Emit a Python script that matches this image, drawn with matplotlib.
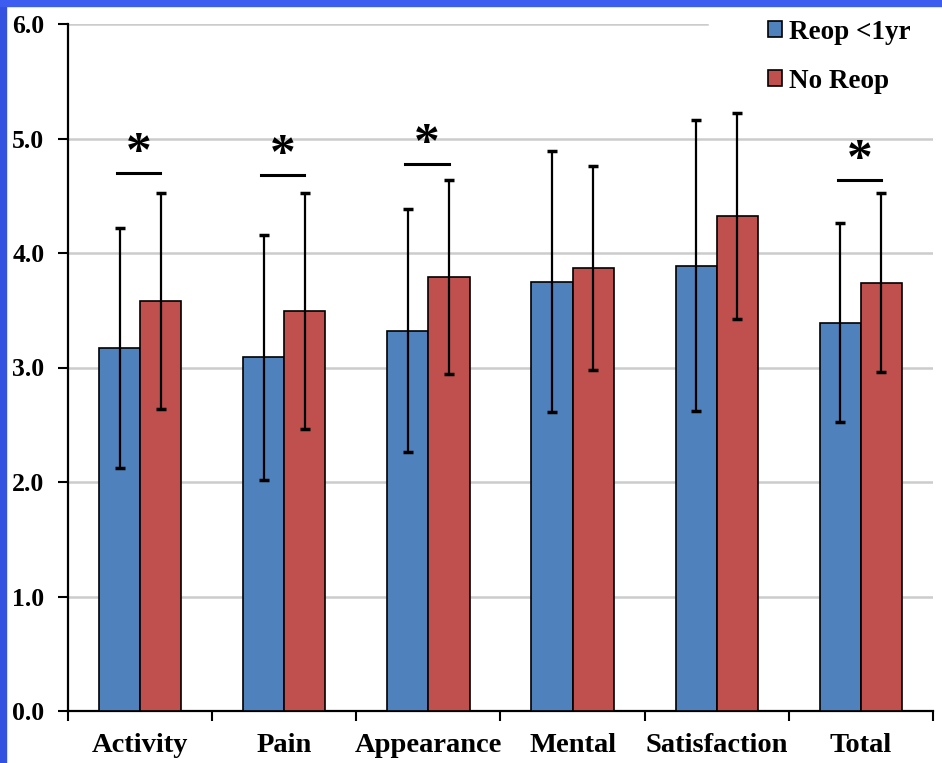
import matplotlib
matplotlib.use("Agg")
import matplotlib.pyplot as plt
import numpy as np
from matplotlib.patches import Rectangle

categories = ["Activity", "Pain", "Appearance", "Mental", "Satisfaction", "Total"]
reop_mean = [3.17, 3.09, 3.32, 3.75, 3.89, 3.39]
reop_sd = [1.05, 1.07, 1.06, 1.14, 1.27, 0.87]
noreop_mean = [3.58, 3.49, 3.79, 3.87, 4.32, 3.74]
noreop_sd = [0.94, 1.03, 0.85, 0.89, 0.90, 0.78]
# significance markers: category index and height of the bracket line
sig_idx = [0, 1, 2, 5]
sig_y = [4.70, 4.68, 4.78, 4.64]
y_ticks = [0.0, 1.0, 2.0, 3.0, 4.0, 5.0, 6.0]

serif = "Liberation Serif"
blue = "#4f81bd"
red = "#c0504d"

fig = plt.figure(figsize=(9.42, 7.63), dpi=100)
ax = fig.add_axes([68 / 942, 52 / 763, 865 / 942, 687 / 763])

x = np.arange(len(categories))
w = 0.285
err_kw = dict(elinewidth=1.6, capsize=3.5, capthick=2.5, ecolor="black")
ax.bar(x - w / 2, reop_mean, w, yerr=reop_sd, color=blue, edgecolor="black",
       linewidth=1.2, error_kw=err_kw, label="Reop <1yr", zorder=3)
ax.bar(x + w / 2, noreop_mean, w, yerr=noreop_sd, color=red, edgecolor="black",
       linewidth=1.2, error_kw=err_kw, label="No Reop", zorder=3)

for i, yy in zip(sig_idx, sig_y):
    ax.plot([i - 0.16, i + 0.14], [yy, yy], color="black", lw=2.2, zorder=4)
    ax.text(i - 0.01, yy + 0.06, "*", ha="center", va="baseline",
            fontsize=37, fontweight="bold", family=serif, zorder=4)

ax.set_xlim(-0.5, len(categories) - 0.5)
ax.set_ylim(0, 6)
ax.set_yticks(y_ticks)
ax.set_yticklabels([f"{v:.1f}" for v in y_ticks], fontsize=18.5,
                   fontweight="bold", family=serif)
ax.set_xticks(np.arange(len(categories) + 1) - 0.5)
ax.set_xticklabels([])
ax.set_xticks(x, categories, minor=True)
for lab in ax.get_xticklabels(minor=True):
    lab.set_fontsize(20.5)
    lab.set_fontweight("bold")
    lab.set_family(serif)
ax.tick_params(axis="x", which="major", direction="out", length=7, width=1.5)
ax.tick_params(axis="x", which="minor", length=0, pad=16)
ax.tick_params(axis="y", direction="out", length=7, width=1.5, pad=10)

ax.yaxis.grid(True, color="#cccccc", lw=1.8, zorder=0)
ax.get_ygridlines()[-1].set_visible(False)
ax.axhline(6.0, xmax=(707 - 68) / 865, color="#cccccc", lw=1.8, zorder=0)
ax.set_axisbelow(True)

for s in ["top", "right"]:
    ax.spines[s].set_visible(False)
for s in ["left", "bottom"]:
    ax.spines[s].set_linewidth(1.6)

leg = ax.legend(loc="upper left", bbox_to_anchor=(754 / 942, 1 - 6 / 763),
                bbox_transform=fig.transFigure, frameon=False, borderpad=0,
                handlelength=0.55, handleheight=0.55, handletextpad=0.25,
                labelspacing=0.9,
                prop=dict(family=serif, weight="bold", size=19.5))
for h in leg.legend_handles:
    h.set_edgecolor("black")
    h.set_linewidth(1.2)

# blue slide border on the left and top
fig.add_artist(Rectangle((0, 0), 6 / 942, 1, transform=fig.transFigure,
                         color="#3352e0", zorder=5))
fig.add_artist(Rectangle((0, 1 - 6 / 763), 1, 6 / 763, transform=fig.transFigure,
                         color="#3d5cf0", zorder=5))

fig.savefig("out.png", dpi=100)
